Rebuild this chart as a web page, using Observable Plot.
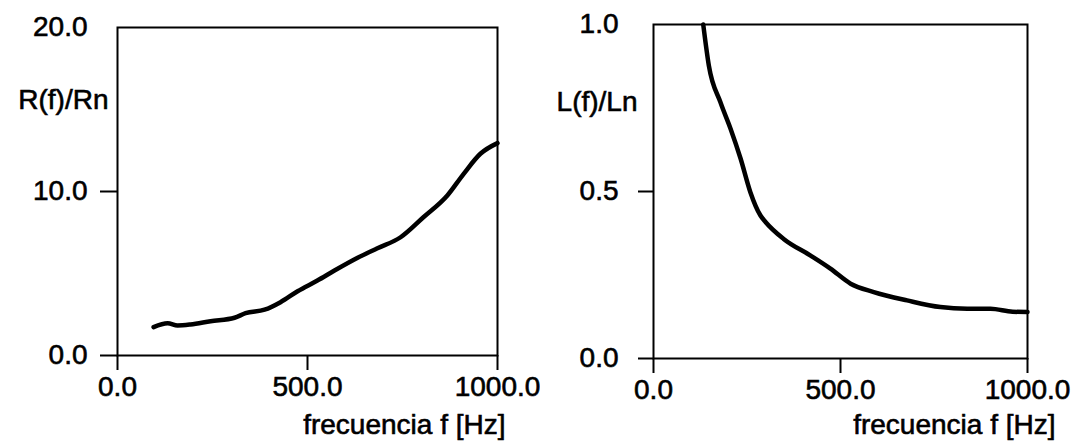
<!DOCTYPE html>
<html>
<head>
<meta charset="utf-8">
<script src="https://cdn.jsdelivr.net/npm/d3@7"></script>
<script src="https://cdn.jsdelivr.net/npm/@observablehq/plot@0.6"></script>
<style>
  html, body { margin: 0; padding: 0; background: white; }
  #wrap { display: flex; width: 1078px; height: 443px; }
  #wrap svg { overflow: visible; max-width: none !important; }
  #wrap svg text { stroke: black; stroke-width: 0.6px; }
</style>
</head>
<body>
<div id="wrap"></div>
<script>
// Left panel: R(f)/Rn vs frequency
const freqR = [95, 132, 158, 192, 245, 308, 337, 387, 429, 474, 526, 571, 632, 684, 745, 805, 868, 911, 955, 1000];
const ratioR = [1.73, 1.97, 1.83, 1.89, 2.09, 2.30, 2.58, 2.79, 3.25, 3.92, 4.57, 5.18, 5.96, 6.54, 7.21, 8.43, 9.76, 11.08, 12.30, 12.95];
// Right panel: L(f)/Ln vs frequency
const freqL = [133, 148, 179, 206, 233, 259, 286, 300, 348, 420, 473, 527, 589, 678, 767, 839, 901, 960, 1000];
const ratioL = [1.0, 0.877, 0.767, 0.688, 0.598, 0.498, 0.428, 0.408, 0.358, 0.308, 0.269, 0.224, 0.199, 0.174, 0.154, 0.149, 0.149, 0.140, 0.139];

const xTicks = [0, 500, 1000];
const yTicksR = [0, 10, 20];
const yTicksL = [0, 0.5, 1];
const yLabelR = "R(f)/Rn";
const yLabelL = "L(f)/Ln";
const xLabel = "frecuencia f [Hz]";

const FONT = "'Liberation Sans', Arial, Helvetica, sans-serif";
const FS = 28;

function panel(o) {
  const data = o.xs.map((x, i) => ({x, y: o.ys[i]}));
  return Plot.plot({
    width: o.width,
    height: 443,
    marginLeft: o.ml, marginRight: o.mr, marginTop: o.mt, marginBottom: o.mb,
    style: {fontFamily: FONT, fontSize: FS + "px", color: "black", background: "white", overflow: "visible"},
    x: {domain: [0, 1000]},
    y: {domain: o.yDomain},
    marks: [
      Plot.frame({stroke: "black", strokeWidth: 2}),
      Plot.axisX({ticks: xTicks, tickSize: 15, tickPadding: 6, strokeWidth: 2,
        tickFormat: d => d.toFixed(1), label: null, fontSize: FS, fill: "black"}),
      Plot.axisY({ticks: o.yTickMarks, tickSize: o.yTickSize, strokeWidth: 2,
        tickFormat: () => "", label: null}),
      Plot.axisY({ticks: o.yTicks, tickSize: 0, tickPadding: o.yPad,
        tickFormat: d => d.toFixed(1), label: null, fontSize: FS, fill: "black"}),
      Plot.line(data, {x: "x", y: "y", curve: "monotone-x", stroke: "black", strokeWidth: 4.5,
        strokeLinejoin: "round", strokeLinecap: "round"}),
      Plot.text([o.ylabel], {text: d => d, frameAnchor: "top-left", textAnchor: "end",
        lineAnchor: "middle", dx: o.ylDx, dy: o.ylDy, fontSize: FS, fill: "black"}),
      Plot.text([xLabel], {text: d => d, frameAnchor: "bottom-right", textAnchor: "end",
        lineAnchor: "middle", dx: o.xlDx, dy: o.xlDy, fontSize: FS, fill: "black"})
    ]
  });
}

const left = panel({
  xs: freqR, ys: ratioR, width: 540,
  ml: 117, mr: 43, mt: 27, mb: 88,
  yDomain: [0, 20], yTicks: yTicksR, yTickMarks: [0, 10], yTickSize: 17, yPad: 30,
  ylabel: yLabelR, ylDx: -9, ylDy: 73,
  xlDx: 8, xlDy: 70
});
const right = panel({
  xs: freqL, ys: ratioL, width: 538,
  ml: 113, mr: 51, mt: 24, mb: 85,
  yDomain: [0, 1], yTicks: yTicksL, yTickMarks: [0, 0.5], yTickSize: 15, yPad: 35,
  ylabel: yLabelL, ylDx: -16, ylDy: 78,
  xlDx: 28, xlDy: 67
});
document.getElementById("wrap").append(left, right);
</script>
</body>
</html>
